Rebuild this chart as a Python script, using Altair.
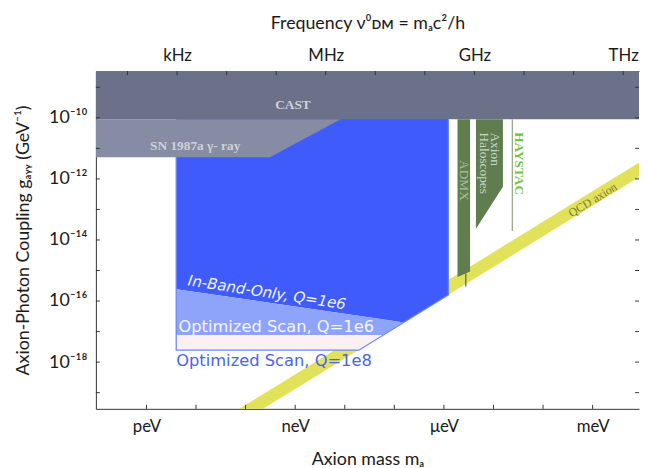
import altair as alt
import pandas as pd
import math

H_EV_S = 4.136e-15  # h in eV*s, frequency -> mass

# ---- axis extents (log10) ----
x_dom_log = [-13.02, -2.064]
y_dom_log = [-19.53, -8.47]

mass_tick_exp = [-12, -11, -10, -9, -8, -7, -6, -5, -4, -3]
mass_label_exp = [-12, -9, -6, -3]
mass_labels = ["peV", "neV", "μeV", "meV"]

freq_tick_exp = [2, 3, 4, 5, 6, 7, 8, 9, 10, 11, 12]
freq_label_exp = [3, 6, 9, 12]
freq_labels = ["kHz", "MHz", "GHz", "THz"]

coup_tick_exp = [-9, -10, -11, -12, -13, -14, -15, -16, -17, -18, -19]
coup_label_exp = [-10, -12, -14, -16, -18]
coup_labels = ["10⁻¹⁰", "10⁻¹²", "10⁻¹⁴", "10⁻¹⁶", "10⁻¹⁸"]

# ---- regions (log10 mass [eV], log10 coupling [GeV^-1]) ----
qcd_x = [-10.2, -2.0]
qcd_lo = [-20.08, -11.88]
qcd_hi = [-19.60, -11.40]

cast_x = [-13.02, -2.064]
cast_lo = [-10.046, -10.046]
cast_hi = [-8.47, -8.47]

sn_x = [-13.02, -9.51, -8.082]
sn_lo = [-11.29, -11.29, -10.046]
sn_hi = [-10.046, -10.046, -10.046]

inband_x = [-11.40, -6.81, -5.91]
inband_lo = [-15.61, -16.70, -15.80]
inband_hi = [-10.0, -10.0, -10.0]

opt6_x = [-11.40, -7.223, -6.81]
opt6_lo = [-17.116, -17.116, -16.70]
opt6_hi = [-15.61, -16.60, -16.70]

opt8_x = [-11.40, -7.717, -7.223]
opt8_lo = [-17.61, -17.61, -17.116]
opt8_hi = [-17.116, -17.116, -17.116]

outline_x = [-11.40, -11.40, -7.717, -5.91, -5.91]
outline_y = [-10.05, -17.61, -17.61, -15.80, -10.05]

admx_x = [-5.725, -5.472]
admx_lo = [-15.21, -15.03]
admx_hi = [-10.046, -10.046]
admx_line_x = [-5.558, -5.558]
admx_line_y = [-15.10, -15.52]

halo_x = [-5.353, -4.809]
halo_lo = [-13.63, -12.26]
halo_hi = [-10.046, -10.046]

haystac_x = [-4.62, -4.62]
haystac_y = [-10.046, -13.71]

# ---- labels in the plot ----
lbl_serif_text = ["CAST", "SN 1987a γ- ray"]
lbl_serif_x = [-9.044, -11.017]
lbl_serif_y = [-9.568, -10.913]

lbl_halo_text = ["Axion", "Haloscopes"]
lbl_halo_x = [-4.962, -5.193]
lbl_halo_y = [-10.48, -10.48]

C_CAST = "#6b7189"
C_SN = "#858ca3"
C_BLUE = "#3f5bfb"
C_LBLUE = "#8ea4fb"
C_PINK = "#fcf0f3"
C_GREEN = "#5f7d4f"
C_YEL = "#e2e25a"

xscale = alt.Scale(type="log", domain=[10 ** x_dom_log[0], 10 ** x_dom_log[1]], nice=False)
yscale = alt.Scale(type="log", domain=[10 ** y_dom_log[0], 10 ** y_dom_log[1]], nice=False)


def p10(vals):
    return [10 ** v for v in vals]


def xenc(field="m", axis=None):
    return alt.X(f"{field}:Q", scale=xscale, axis=axis)


def yenc(field="g", axis=None):
    return alt.Y(f"{field}:Q", scale=yscale, axis=axis)


def area(xs, lo, hi, color):
    df = pd.DataFrame({"m": p10(xs), "lo": p10(lo), "hi": p10(hi)})
    return alt.Chart(df).mark_area(color=color, clip=True, opacity=1).encode(
        x=xenc(), y=yenc("lo"), y2="hi:Q"
    )


def line(xs, ys, color, width):
    df = pd.DataFrame({"m": p10(xs), "g": p10(ys), "o": list(range(len(xs)))})
    return alt.Chart(df).mark_line(color=color, strokeWidth=width, clip=True).encode(
        x=xenc(), y=yenc(), order="o:Q"
    )


def label_expr(exps, labels, offset=0.0):
    parts = []
    for e, l in zip(exps, labels):
        parts.append(f"abs(log(datum.value)/LN10 - ({e + offset})) < 0.1 ? '{l}' : ")
    return "".join(parts) + "''"


FONT = "Lato"
TXT = "#1a1a1a"
f_off = math.log10(H_EV_S)

# ---- ticks (inward) carrying the axes ----
bottom_ticks = alt.Chart(pd.DataFrame({"m": p10(mass_tick_exp)})).mark_rule(color="#333").encode(
    x=xenc(axis=alt.Axis(orient="bottom", values=p10(mass_label_exp),
                         labelExpr=label_expr(mass_label_exp, mass_labels),
                         ticks=False, grid=False, domain=True, domainColor="#333",
                         labelFont=FONT, labelFontSize=17, labelColor=TXT, labelPadding=10,
                         title="Axion mass mₐ", titleFont=FONT, titleFontSize=18,
                         titleFontWeight="normal", titleColor=TXT, titlePadding=16)),
    y=alt.value(342), y2=alt.value(338),
)

top_ticks = alt.Chart(pd.DataFrame({"m": [H_EV_S * 10 ** e for e in freq_tick_exp]})).mark_rule(color="#333").encode(
    x=xenc(axis=alt.Axis(orient="top", values=[H_EV_S * 10 ** e for e in freq_label_exp],
                         labelExpr=label_expr(freq_label_exp, freq_labels, f_off),
                         ticks=False, grid=False, domain=True, domainColor="#333",
                         labelFont=FONT, labelFontSize=17, labelColor=TXT, labelPadding=7,
                         title="Frequency ν⁰ᴅᴍ = mₐc²/h", titleFont=FONT, titleFontSize=18,
                         titleFontWeight="normal", titleColor=TXT, titlePadding=14)),
    y=alt.value(0), y2=alt.value(4),
)

left_ticks = alt.Chart(pd.DataFrame({"g": p10(coup_tick_exp)})).mark_rule(color="#333").encode(
    y=yenc(axis=alt.Axis(orient="left", values=p10(coup_label_exp),
                         labelExpr=label_expr(coup_label_exp, coup_labels),
                         ticks=False, grid=False, domain=True, domainColor="#333",
                         labelFont=FONT, labelFontSize=18, labelColor=TXT, labelPadding=9,
                         title="Axion-Photon Coupling gₐᵧᵧ (GeV⁻¹)", titleFont=FONT,
                         titleFontSize=18, titleFontWeight="normal", titleColor=TXT,
                         titlePadding=16)),
    x=alt.value(0), x2=alt.value(4),
)

right_ticks = alt.Chart(pd.DataFrame({"g": p10(coup_tick_exp)})).mark_rule(color="#333").encode(
    y=yenc(), x=alt.value(550), x2=alt.value(546),
)

# ---- text layers ----
def txt(df, **kw):
    return alt.Chart(df).mark_text(**kw).encode(x=xenc(), y=yenc(), text="t:N")

serif_lbl = txt(pd.DataFrame({"m": p10(lbl_serif_x), "g": p10(lbl_serif_y), "t": lbl_serif_text}),
                font="Liberation Serif", fontSize=13.5, color="#cfd2da", fontWeight="bold",
                align="center", baseline="middle")
inband_lbl = txt(pd.DataFrame({"m": p10([-9.57]), "g": p10([-15.72]), "t": ["In-Band-Only, Q=1e6"]}),
                 font="DejaVu Sans", fontSize=15.3, fontStyle="italic", color="#f2f4ff",
                 align="center", baseline="middle", angle=8.7)
opt6_lbl = txt(pd.DataFrame({"m": p10([-11.355]), "g": p10([-16.85]), "t": ["Optimized Scan, Q=1e6"]}),
               font="DejaVu Sans", fontSize=16.5, color="#f4f5ff", align="left", baseline="middle")
opt8_lbl = txt(pd.DataFrame({"m": p10([-11.40]), "g": p10([-17.98]), "t": ["Optimized Scan, Q=1e8"]}),
               font="DejaVu Sans", fontSize=16.5, color="#4a63ee", align="left", baseline="middle")
admx_lbl = txt(pd.DataFrame({"m": p10([-5.602]), "g": p10([-12.05]), "t": ["ADMX"]}),
               font="Liberation Serif", fontSize=13.5, color="#aebda0",
               align="center", baseline="middle", angle=90)
halo_lbl = txt(pd.DataFrame({"m": p10(lbl_halo_x), "g": p10(lbl_halo_y), "t": lbl_halo_text}),
               font="Liberation Serif", fontSize=13.5, color="#ccd4c4",
               align="left", baseline="middle", angle=90)
hay_lbl = txt(pd.DataFrame({"m": p10([-4.496]), "g": p10([-11.50]), "t": ["HAYSTAC"]}),
              font="Liberation Serif", fontSize=13.5, fontWeight="bold", color="#6cbf4a",
              align="center", baseline="middle", angle=90)
qcd_lbl = txt(pd.DataFrame({"m": p10([-3.0]), "g": p10([-12.69]), "t": ["QCD axion"]}),
              font="Liberation Serif", fontSize=12, color="#7b7a2e",
              align="center", baseline="middle", angle=328.4)

layers = [
    area(qcd_x, qcd_lo, qcd_hi, C_YEL),
    area(inband_x, inband_lo, inband_hi, C_BLUE),
    area(opt6_x, opt6_lo, opt6_hi, C_LBLUE),
    area(opt8_x, opt8_lo, opt8_hi, C_PINK),
    line(outline_x, outline_y, "#6a86fb", 1.3),
    area(sn_x, sn_lo, sn_hi, C_SN),
    area(cast_x, cast_lo, cast_hi, C_CAST),
    area(admx_x, admx_lo, admx_hi, C_GREEN),
    line(admx_line_x, admx_line_y, "#4d6a3f", 1.2),
    area(halo_x, halo_lo, halo_hi, C_GREEN),
    line(haystac_x, haystac_y, "#8fa383", 1.2),
    serif_lbl, inband_lbl, opt6_lbl, opt8_lbl, admx_lbl, halo_lbl, hay_lbl, qcd_lbl,
    bottom_ticks, top_ticks, left_ticks, right_ticks,
]

chart = alt.layer(*layers).resolve_axis(x="independent", y="independent").properties(
    width=550, height=342,
    autosize=alt.AutoSizeParams(type="none"),
    padding={"left": 89, "top": 61, "right": 1, "bottom": 57},
).configure_view(stroke=None)

chart.save("out.html", embed_options={"renderer": "svg", "actions": False})
